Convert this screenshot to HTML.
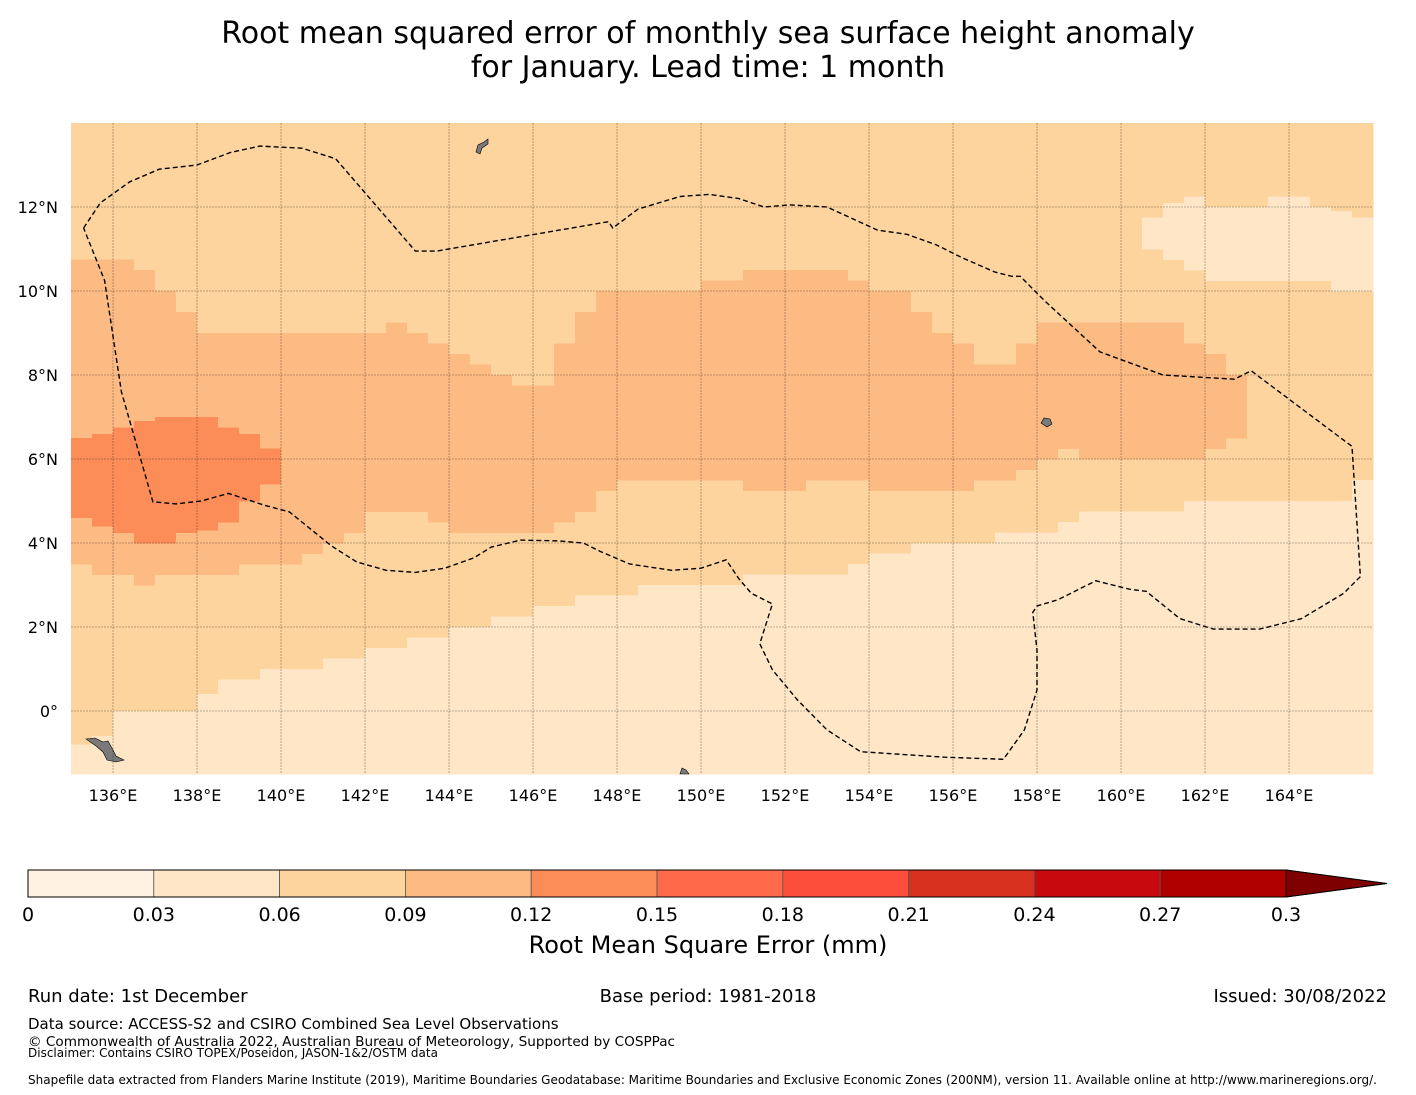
<!DOCTYPE html>
<html><head><meta charset="utf-8"><style>
body{margin:0;background:#fff;font-family:"Liberation Sans","DejaVu Sans",sans-serif;}
svg{display:block}
text{font-family:"DejaVu Sans","Liberation Sans",sans-serif;fill:#000}
</style></head><body>
<svg id="chart" width="1416" height="1095" viewBox="0 0 1416 1095" xmlns="http://www.w3.org/2000/svg">
<text x="708" y="43" font-size="30" text-anchor="middle">Root mean squared error of monthly sea surface height anomaly</text>
<text x="708" y="77" font-size="30" text-anchor="middle">for January. Lead time: 1 month</text>
<g id="map"></g>
<g id="cbar"></g>
<text x="708" y="953" font-size="24" text-anchor="middle">Root Mean Square Error (mm)</text>
<text x="28" y="1002" font-size="18">Run date: 1st December</text>
<text x="708" y="1002" font-size="18" text-anchor="middle">Base period: 1981-2018</text>
<text x="1387" y="1002" font-size="18" text-anchor="end">Issued: 30/08/2022</text>
<text x="28" y="1029" font-size="15">Data source: ACCESS-S2 and CSIRO Combined Sea Level Observations</text>
<text x="28" y="1046" font-size="13.6">© Commonwealth of Australia 2022, Australian Bureau of Meteorology, Supported by COSPPac</text>
<text x="28" y="1057" font-size="12">Disclaimer: Contains CSIRO TOPEX/Poseidon, JASON-1&amp;2/OSTM data</text>
<text x="28" y="1084" font-size="12">Shapefile data extracted from Flanders Marine Institute (2019), Maritime Boundaries Geodatabase: Maritime Boundaries and Exclusive Economic Zones (200NM), version 11. Available online at http://www.marineregions.org/.</text>
</svg>
<script>
// Data: per 0.5° longitude column (lon 135..166), latitude boundaries of RMSE level regions
const colLons = Array.from({length:62},(_,i)=>135+0.5*i);
const southLightTop = [-0.8,-0.6,0,0,0,0,0.4,0.75,0.75,1.0,1.0,1.0,1.25,1.25,1.5,1.5,1.75,1.75,2.0,2.0,2.25,2.25,2.5,2.5,2.75,2.75,2.75,3.0,3.0,3.0,3.0,3.0,3.25,3.25,3.25,3.25,3.25,3.5,3.75,3.75,4.0,4.0,4.0,4.0,4.25,4.25,4.25,4.5,4.75,4.75,4.75,4.75,4.75,5.0,5.0,5.0,5.0,5.0,5.0,5.0,5.0,5.5];
const band3Top = [10.75,10.75,10.75,10.5,10.0,9.5,9.0,9.0,9.0,9.0,9.0,9.0,9.0,9.0,9.0,9.25,9.0,8.75,8.5,8.25,8.0,7.75,7.75,8.75,9.5,10.0,10.0,10.0,10.0,10.0,10.25,10.25,10.5,10.5,10.5,10.5,10.5,10.25,10.0,10.0,9.5,9.0,8.75,8.25,8.25,8.75,9.25,9.25,9.25,9.25,9.25,9.25,9.25,8.75,8.5,8.0,null,null,null,null,null,null];
const band3Bottom = [3.5,3.25,3.25,3.0,3.25,3.25,3.25,3.25,3.5,3.5,3.5,3.75,4.0,4.25,4.75,4.75,4.75,4.5,4.25,4.25,4.25,4.25,4.25,4.5,4.75,5.25,5.5,5.5,5.5,5.5,5.5,5.5,5.25,5.25,5.25,5.5,5.5,5.5,5.25,5.25,5.25,5.25,5.25,5.5,5.5,5.75,6.0,6.25,6.0,6.0,6.0,6.0,6.0,6.0,6.25,6.5,null,null,null,null,null,null];
const blob4Top = [6.5,6.6,6.75,6.9,7.0,7.0,7.0,6.75,6.6,6.25];
const blob4Bottom = [4.6,4.4,4.25,4.0,4.0,4.25,4.3,4.5,5.0,5.4];
const neLightTop = {51:11.75,52:12.1,53:12.25,54:12.0,55:12.0,56:12.0,57:12.25,58:12.25,59:12.0,60:11.9,61:11.75};
const neLightBottom = {51:11.0,52:10.75,53:10.5,54:10.25,55:10.25,56:10.25,57:10.25,58:10.25,59:10.25,60:10.0,61:10.0};
const lonTicks = [136,138,140,142,144,146,148,150,152,154,156,158,160,162,164];
const latTicks = [0,2,4,6,8,10,12];
const latLabels = ["0°","2°N","4°N","6°N","8°N","10°N","12°N"];
const cbarLevels = [0,0.03,0.06,0.09,0.12,0.15,0.18,0.21,0.24,0.27,0.3];
const cbarColors = ["#fff2e2","#fee6c7","#fdd49e","#fdbb84","#fc8d59","#fe6a4a","#fc4e3a","#d7301f","#c80a0f","#b00000"];
const extendColor = "#7f0000";
const eez = [[135.3,11.5],[135.7,12.1],[136.4,12.6],[137.1,12.9],[138,13.0],[138.8,13.3],[139.5,13.45],[140.5,13.4],[141.3,13.15],[143.2,10.95],[143.7,10.95],[147.8,11.65],[147.9,11.5],[148.5,11.95],[149.5,12.25],[150.2,12.3],[150.9,12.2],[151.5,12.0],[152.1,12.05],[153,12.0],[154.2,11.45],[154.9,11.35],[155.6,11.1],[156.2,10.8],[157.0,10.45],[157.4,10.35],[157.6,10.35],[158.2,9.75],[159.5,8.55],[161.0,8.0],[162.7,7.9],[163.1,8.1],[165.5,6.3],[165.7,3.2],[165.3,2.8],[164.3,2.2],[163.3,1.95],[162.2,1.95],[161.4,2.2],[160.6,2.85],[160.2,2.9],[159.4,3.1],[158.5,2.65],[158.0,2.5],[157.9,2.35],[158.0,1.45],[158.0,0.5],[157.7,-0.45],[157.2,-1.15],[155.8,-1.1],[153.8,-0.97],[153.0,-0.45],[152.3,0.26],[151.7,0.98],[151.4,1.6],[151.7,2.55],[151.2,2.8],[150.9,3.15],[150.6,3.6],[150.0,3.4],[149.3,3.35],[148.3,3.5],[147.6,3.8],[147.2,4.0],[146.6,4.05],[145.7,4.07],[145.0,3.9],[144.6,3.65],[143.9,3.4],[143.2,3.3],[142.5,3.35],[141.8,3.55],[141.2,3.93],[140.2,4.74],[139.6,4.9],[138.75,5.18],[138.1,5.0],[137.5,4.93],[136.95,4.98],[136.2,7.6],[135.8,10.25],[135.3,11.5]];

const NS='http://www.w3.org/2000/svg';
const X0=71, Y0=711, K=42, LON0=135, LAT_MIN=-1.5, LAT_MAX=14, LON_MAX=166;
const xs = lon => X0 + K*(lon-LON0);
const ys = lat => Y0 - K*lat;
function mk(tag, attrs, parent){const e=document.createElementNS(NS,tag);for(const k in attrs)e.setAttribute(k,attrs[k]);parent.appendChild(e);return e;}
const map=document.getElementById('map');
const LV=["#fee6c7","#fdd49e","#fdbb84","#fc8d59"];
function cell(i,lo,hi,color,name){
  const x1=xs(colLons[i]), x2=xs(colLons[i]+0.5);
  const a=Math.max(lo,LAT_MIN), b=Math.min(hi,LAT_MAX);
  if(b<=a) return;
  const r=mk('rect',{x:x1,y:ys(b),width:x2-x1+0.5,height:ys(a)-ys(b)+0.3,fill:color,'shape-rendering':'crispEdges'},map);
  
  
}
for(let i=0;i<colLons.length;i++){
  cell(i,LAT_MIN,LAT_MAX,LV[1],'cell-level-0.06');
  cell(i,LAT_MIN,southLightTop[i],LV[0],'cell-level-0.03');
  if(band3Top[i]!==null) cell(i,band3Bottom[i],band3Top[i],LV[2],'cell-level-0.09');
  if(i<blob4Top.length) cell(i,blob4Bottom[i],blob4Top[i],LV[3],'cell-level-0.12');
  if(neLightTop[i]!==undefined) cell(i,neLightBottom[i],neLightTop[i],LV[0],'cell-level-0.03');
}
// islands
[[100,745,"M86,739 L95,738 L103,742 L108,741 L113,750 L116,756 L124,760 L116,762 L107,760 L103,752 L96,746 Z"],
 [480,145,"M476,152 L478,145 L484,142 L488,139 L488,144 L482,148 L480,154 Z"],
 [683,770,"M680,774 L682,768 L686,770 L689,774 Z"],
 [1046,422,"M1041,423 L1044,418 L1050,419 L1052,424 L1047,427 Z"]].forEach(p=>{
  const e=mk('path',{d:p[2],fill:'#7a7a7a',stroke:'#000','stroke-width':0.6},map);
  
  
});
// gridlines
lonTicks.forEach(l=>{const e=mk('line',{x1:xs(l),x2:xs(l),y1:ys(LAT_MAX),y2:ys(LAT_MIN),stroke:'#000','stroke-opacity':0.35,'stroke-width':0.8,'stroke-dasharray':'2,1'},map);
 
 
 const t=mk('text',{x:xs(l),y:801,'font-size':16,'text-anchor':'middle'},map);t.textContent=l+'°E';
 
 });
latTicks.forEach((l,j)=>{const e=mk('line',{x1:xs(LON0),x2:xs(LON_MAX),y1:ys(l),y2:ys(l),stroke:'#000','stroke-opacity':0.35,'stroke-width':0.8,'stroke-dasharray':'2,1'},map);
 
 
 const t=mk('text',{x:58,y:ys(l)+6,'font-size':16,'text-anchor':'end'},map);t.textContent=latLabels[j];
 
 });
// EEZ
const ez=mk('path',{d:'M'+eez.map(p=>xs(p[0]).toFixed(1)+','+ys(p[1]).toFixed(1)).join(' L'),fill:'none',stroke:'#000','stroke-width':1.4,'stroke-dasharray':'5,3'},map);


// colorbar
const cb=document.getElementById('cbar');
const CX0=28, CW=1258, CY=870, CH=27;
const cx=v=>CX0+CW*v/0.3;
for(let i=0;i<cbarColors.length;i++){
  const r=mk('rect',{x:cx(cbarLevels[i]),y:CY,width:cx(cbarLevels[i+1])-cx(cbarLevels[i]),height:CH,fill:cbarColors[i],stroke:'#555','stroke-width':0.8},cb);
  
  
}
const tri=mk('path',{d:`M${cx(0.3)},${CY} L1387,${CY+CH/2} L${cx(0.3)},${CY+CH} Z`,fill:extendColor,stroke:'#000','stroke-width':0.8},cb);


const ol=mk('path',{d:`M${CX0},${CY} L${cx(0.3)},${CY} L1387,${CY+CH/2} L${cx(0.3)},${CY+CH} L${CX0},${CY+CH} Z`,fill:'none',stroke:'#000','stroke-width':1},cb);


cbarLevels.forEach(v=>{const t=mk('text',{x:cx(v),y:921,'font-size':19,'text-anchor':'middle'},cb);t.textContent=String(v);
 
 });
</script>
</body></html>
